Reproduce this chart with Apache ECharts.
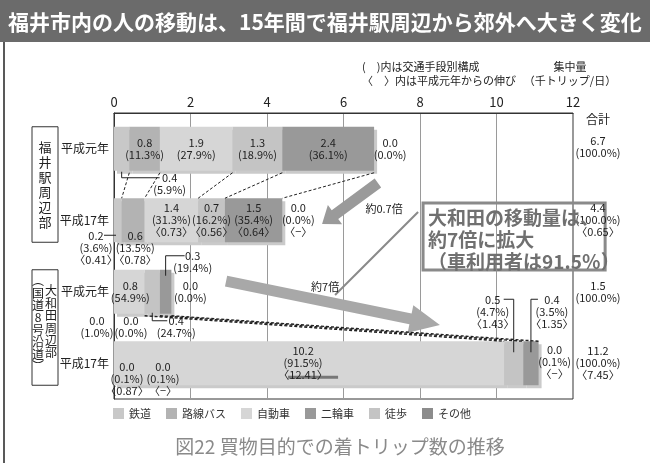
<!DOCTYPE html>
<html>
<head>
<meta charset="utf-8">
<script src="https://cdn.jsdelivr.net/npm/echarts@6/dist/echarts.min.js"></script>
<style>
  html, body { margin: 0; padding: 0; background: #fff; }
  #chart { width: 650px; height: 463px; }
</style>
</head>
<body>
<div id="chart"></div>
<script>
const FONT = "'Noto Sans CJK JP', 'Noto Sans', sans-serif";

// Rows, top to bottom
const categories = ['福井駅周辺部・平成元年', '福井駅周辺部・平成17年', '大和田周辺部・平成元年', '大和田周辺部・平成17年'];
const yearLabels = ['平成元年', '平成17年', '平成元年', '平成17年'];
const areaStation = ['福', '井', '駅', '周', '辺', '部'];
const areaOwada = ['大', '和', '田', '周', '辺', '部'];
const areaOwadaNote = ['︵', '国', '道', '8', '号', '沿', '道', '︶'];

// Travel modes in stacking order, and the order shown in the legend
const modes = ['鉄道', '路線バス', '自動車', '徒歩', '二輪車', 'その他'];
const legendOrder = ['鉄道', '路線バス', '自動車', '二輪車', '徒歩', 'その他'];

// Arriving shopping trips (thousand trips / day)
const railTrips  = [0.4, 0.2, 0.0, 0.0];
const busTrips   = [0.8, 0.6, 0.0, 0.0];
const carTrips   = [1.9, 1.4, 0.8, 10.2];
const walkTrips  = [1.3, 0.7, 0.4, 0.5];
const bikeTrips  = [2.4, 1.5, 0.3, 0.4];
const otherTrips = [0.0, 0.0, 0.0, 0.0];

// Modal share (%)
const railShare  = [5.9, 3.6, 1.0, 0.1];
const busShare   = [11.3, 13.5, 0.0, 0.1];
const carShare   = [27.9, 31.3, 54.9, 91.5];
const walkShare  = [18.9, 16.2, 24.7, 4.7];
const bikeShare  = [36.1, 35.4, 19.4, 3.5];
const otherShare = [0.0, 0.0, 0.0, 0.1];

// Growth since 平成元年 (null for the base year)
const railGrowth  = [null, '0.41', null, '0.87'];
const busGrowth   = [null, '0.78', null, '−'];
const carGrowth   = [null, '0.73', null, '12.41'];
const walkGrowth  = [null, '0.56', null, '1.43'];
const bikeGrowth  = [null, '0.64', null, '1.35'];
const otherGrowth = [null, '−', null, '−'];

// Totals
const totalTrips  = [6.7, 4.4, 1.5, 11.2];
const totalShare  = [100.0, 100.0, 100.0, 100.0];
const totalGrowth = [null, '0.65', null, '7.45'];

// Axis ticks
const xMin = 0, xMax = 12, xStep = 2;

const modeColors = {
  '鉄道': '#c8c8c8', '路線バス': '#b3b3b3', '自動車': '#d6d6d6',
  '二輪車': '#999999', '徒歩': '#c4c4c4', 'その他': '#8c8c8c'
};
const tripsByMode  = [railTrips, busTrips, carTrips, walkTrips, bikeTrips, otherTrips];
const shareByMode  = [railShare, busShare, carShare, walkShare, bikeShare, otherShare];
const growthByMode = [railGrowth, busGrowth, carGrowth, walkGrowth, bikeGrowth, otherGrowth];

const BAR_W = 44;
const chart = echarts.init(document.getElementById('chart'), null, { renderer: 'canvas' });

chart.setOption({
  animation: false,
  backgroundColor: '#ffffff',
  textStyle: { fontFamily: FONT },
  grid: {
    left: 114, right: 77, top: 113, bottom: 64,
    show: true, borderColor: '#333', borderWidth: 1, backgroundColor: 'transparent',
    containLabel: false, outerBoundsMode: 'none'
  },
  legend: {
    data: legendOrder,
    left: 113, top: 408, padding: 0,
    icon: 'rect', itemWidth: 11, itemHeight: 11, itemGap: 15,
    selectedMode: false,
    itemStyle: { shadowBlur: 0, shadowOffsetX: 0, shadowOffsetY: 0, shadowColor: 'transparent', borderWidth: 0 },
    textStyle: { fontSize: 11, color: '#333', fontFamily: FONT }
  },
  xAxis: {
    type: 'value', position: 'top', min: xMin, max: xMax, interval: xStep,
    axisLine: { show: true, lineStyle: { color: '#333' } },
    axisTick: { show: false },
    axisLabel: { fontSize: 13, color: '#222', margin: 4, fontFamily: FONT, showMinLabel: true, showMaxLabel: true },
    splitLine: { show: true, lineStyle: { color: '#9a9a9a', width: 1 } }
  },
  yAxis: {
    type: 'category', data: categories, inverse: true,
    axisLine: { show: true, lineStyle: { color: '#333' } },
    axisTick: { show: false },
    axisLabel: { fontSize: 12, color: '#222', margin: 5, fontFamily: FONT,
      formatter: (v, i) => yearLabels[i] },
    splitLine: { show: false }
  },
  series: modes.map((m, s) => ({
    name: m, type: 'bar', stack: 'trips', barWidth: BAR_W,
    silent: true, emphasis: { disabled: true },
    itemStyle: {
      color: modeColors[m], shadowColor: '#cacaca',
      shadowOffsetX: 3, shadowOffsetY: 3, shadowBlur: 0.01
    },
    data: tripsByMode[s]
  }))
});

// ---- annotations, placed through the axes ----
const g = [];
const pt = (v, r) => {
  const a = chart.convertToPixel({ gridIndex: 0 }, [v, 0]);
  const b = chart.convertToPixel({ gridIndex: 0 }, [v, 1]);
  return [a[0], a[1] + r * (b[1] - a[1])];
};
const px = v => pt(v, 0)[0];
const rowY = r => pt(0, r)[1];

function txt(x, y, s, o) {
  g.push({ type: 'text', x: x, y: y, z: 60, silent: true,
    style: Object.assign({ text: s, fill: '#222', fontSize: 11, fontFamily: FONT,
      align: 'center', verticalAlign: 'middle' }, o || {}) });
}
function line(points, o) {
  g.push({ type: 'polyline', z: 55, silent: true, shape: { points: points },
    style: Object.assign({ stroke: '#222', lineWidth: 1, fill: null }, o || {}) });
}
function arrow(p0, p1, w, hw, hl, color) {
  const dx = p1[0] - p0[0], dy = p1[1] - p0[1], L = Math.hypot(dx, dy);
  const ux = dx / L, uy = dy / L, nx = -uy, ny = ux;
  const bx = p1[0] - ux * hl, by = p1[1] - uy * hl;
  g.push({ type: 'polygon', z: 52, silent: true, shape: { points: [
    [p0[0] + nx * w, p0[1] + ny * w], [bx + nx * w, by + ny * w], [bx + nx * hw, by + ny * hw],
    [p1[0], p1[1]], [bx - nx * hw, by - ny * hw], [bx - nx * w, by - ny * w], [p0[0] - nx * w, p0[1] - ny * w]
  ] }, style: { fill: color } });
}

// Title banner and frame
const BANNER_H = 42;
g.push({ type: 'rect', z: 40, silent: true, shape: { x: 0, y: 0, width: 650, height: BANNER_H }, style: { fill: '#6b6b6b' } });
txt(8, BANNER_H / 2 + 1, '福井市内の人の移動は、15年間で福井駅周辺から郊外へ大きく変化',
  { fill: '#ffffff', fontSize: 21, fontWeight: 'bold', align: 'left' });
line([[4, BANNER_H], [4, 463]], { stroke: '#222', lineWidth: 1.5 });

// Header notes
txt(362, 67, '(　)内は交通手段別構成', { align: 'left' });
txt(362, 81, '〈　〉内は平成元年からの伸び', { align: 'left' });
txt(570, 67, '集中量');
txt(570, 81, '（千トリップ/日）');
txt(px(xMax) + 25, rowY(0) - 29, '合計', { fontSize: 12 });

// Area boxes with vertical captions
const half = BAR_W / 2;
function areaBox(r0, r1) {
  const top = rowY(r0) - half, bot = rowY(r1) + half;
  g.push({ type: 'rect', z: 50, silent: true, shape: { x: 32, y: top, width: 26, height: bot - top },
    style: { fill: 'transparent', stroke: '#333', lineWidth: 1 } });
  return [top, bot];
}
(function () {
  const [t1, b1] = areaBox(0, 1);
  areaStation.forEach((ch, i) => txt(45, t1 + 20 + i * ((b1 - t1 - 40) / (areaStation.length - 1)), ch, { fontSize: 13 }));
  const [t2] = areaBox(2, 3);
  areaOwada.forEach((ch, i) => txt(51, t2 + 21 + i * 12.4, ch, { fontSize: 12 }));
  areaOwadaNote.forEach((ch, i) => txt(38, t2 + 11 + i * 12.3, ch, { fontSize: 12 }));
})();

// Segment labels: anchor = segment middle / stack end / axis zero, offsets in px
const LH = 11.7;
const labelLayout = [
  [ { a: 'mid', dx: 48, dy: 29, leader: [[0, 23], [0, 29], [38, 29]] },
    { a: 'mid', dx: 0, dy: -6 }, { a: 'mid', dx: 0, dy: -6 }, { a: 'mid', dx: 0, dy: -6 }, { a: 'mid', dx: 0, dy: -6 },
    { a: 'end', dx: 16, dy: -6 } ],
  [ { a: 'zero', dx: -18, dy: 16, leader: [[-10, 15], [2, 15]] },
    { a: 'mid', dx: 2, dy: 16 },
    { a: 'mid', dx: 0, dy: -12 }, { a: 'mid', dx: 0, dy: -12 }, { a: 'mid', dx: 0, dy: -12 },
    { a: 'end', dx: 16, dy: -12 } ],
  [ { a: 'zero', dx: -17, dy: 29 },
    { a: 'zero', dx: 17, dy: 29 },
    { a: 'mid', dx: 1, dy: -6 },
    { a: 'mid', dx: 24, dy: 29, leader: [[0, 21], [0, 29], [15, 29]] },
    { a: 'mid', dx: 27, dy: -36, leader: [[0, -16], [0, -36], [19, -36]] },
    { a: 'end', dx: 19, dy: -6 } ],
  [ { a: 'zero', dx: 13, dy: 4 },
    { a: 'zero', dx: 49, dy: 4 },
    { a: 'mid', dx: -6, dy: -12, underline: [-21, 29, 14] },
    { a: 'mid', dx: -21, dy: -63, leader: [[0, -11], [0, -64], [-10, -64]] },
    { a: 'mid', dx: 21, dy: -63, leader: [[0, -11], [0, -64], [7, -64]] },
    { a: 'end', dx: 16, dy: -13 } ]
];
const totalDy = [-8, -12, -6, -12];
const stackEdges = [];
for (let r = 0; r < categories.length; r++) {
  const c = rowY(r);
  let cum = 0;
  const edges = [];
  for (let s = 0; s < modes.length; s++) {
    const start = cum, end = cum + tripsByMode[s][r];
    cum = end;
    edges.push(end);
    const lay = labelLayout[r][s];
    const ax = lay.a === 'mid' ? px((start + end) / 2) : lay.a === 'end' ? px(end) : px(0);
    const lines = [tripsByMode[s][r].toFixed(1), '(' + shareByMode[s][r].toFixed(1) + '%)'];
    if (growthByMode[s][r] != null) lines.push('〈' + growthByMode[s][r] + '〉');
    lines.forEach((t, i) => txt(ax + lay.dx, c + lay.dy + i * LH, t));
    if (lay.leader) line(lay.leader.map(p => [ax + p[0], c + p[1]]), { lineWidth: 1 });
    if (lay.underline) {
      const u = lay.underline;
      line([[ax + u[0], c + u[2]], [ax + u[1], c + u[2]]], { stroke: '#777', lineWidth: 3 });
    }
  }
  stackEdges.push(edges);
  const tl = [totalTrips[r].toFixed(1), '(' + totalShare[r].toFixed(1) + '%)'];
  if (totalGrowth[r] != null) tl.push('〈' + totalGrowth[r] + '〉');
  tl.forEach((t, i) => txt(px(xMax) + 25, c + totalDy[r] + i * LH, t));
}

// Dashed links between the stack boundaries of the two years
[[0, 1, 1], [2, 3, 1.4]].forEach(([ra, rb, lw]) => {
  const ya = rowY(ra) + half + 2, yb = rowY(rb) - half;
  const seen = {};
  stackEdges[ra].forEach((va, k) => {
    const vb = stackEdges[rb][k];
    const key = va + '|' + vb;
    if (seen[key] || (va === 0 && vb === 0)) return;
    seen[key] = true;
    line([[px(va), ya], [px(vb), yb]], { lineDash: [3, 2], lineWidth: lw });
  });
});

// Trend arrows and notes
arrow(pt(6.90, 0.479), pt(5.44, 1.053), 5.5, 12, 16, '#9a9a9a');
txt(pt(7.06, 0.843)[0], pt(7.06, 0.843)[1], '約0.7倍');
arrow(pt(2.93, 1.850), pt(8.52, 2.465), 5.5, 14, 30, '#a8a8a8');
txt(pt(5.52, 1.934)[0], pt(5.52, 1.934)[1], '約7倍');

// Callout box
const b0 = pt(8.08, 0.759), b1 = pt(12.84, 1.696);
g.push({ type: 'rect', z: 58, silent: true,
  shape: { x: b0[0], y: b0[1], width: b1[0] - b0[0], height: b1[1] - b0[1] },
  style: { fill: 'transparent', stroke: '#8a8a8a', lineWidth: 3 } });
line([pt(7.95, 0.885), pt(5.78, 2.045)], { stroke: '#8a8a8a', lineWidth: 2 });
['大和田の移動量は、', '約7倍に拡大', '（車利用者は91.5％）'].forEach((t, i) =>
  txt(b0[0] + 5, b0[1] + 15 + i * 22, t, { align: 'left', fontSize: 19, fontWeight: 'bold', fill: '#707070' }));

// Figure caption
txt(340, 447, '図22 買物目的での着トリップ数の推移', { fontSize: 19, fill: '#8a8a8a' });

chart.setOption({ graphic: g });
</script>
</body>
</html>
